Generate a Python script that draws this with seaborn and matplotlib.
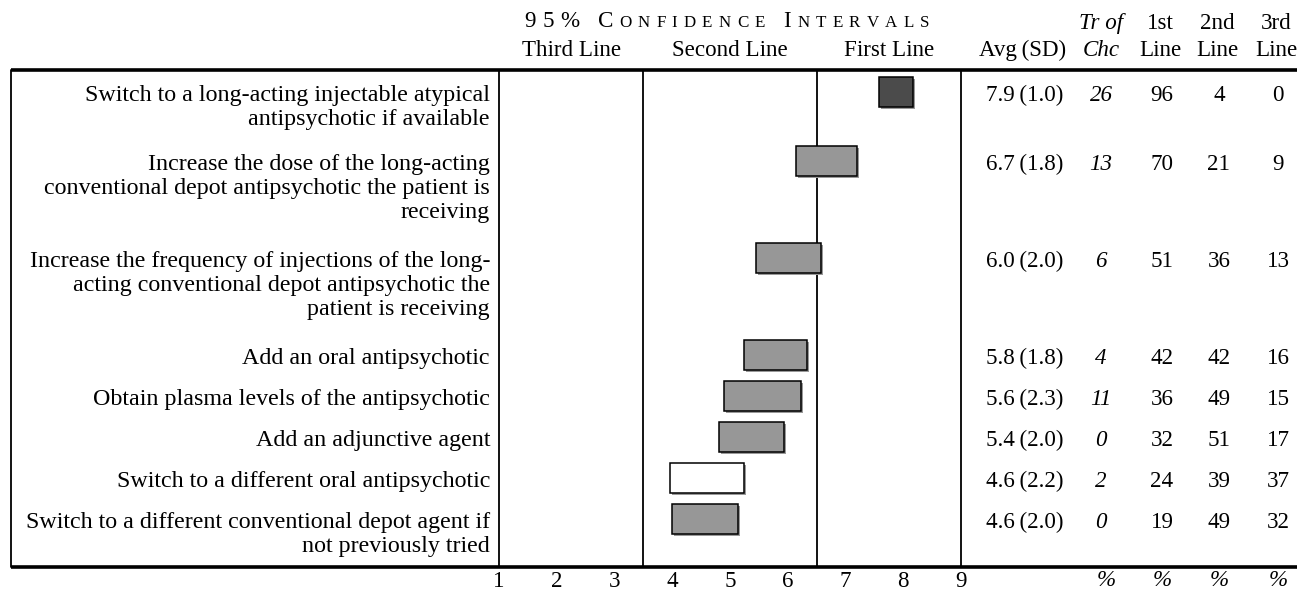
import numpy as np
import pandas as pd
import matplotlib
matplotlib.use("Agg")
import matplotlib.pyplot as plt
import matplotlib.patheffects as pe
import seaborn as sns

# ---------------- data ----------------
labels = [
    "Switch to a long-acting injectable atypical\nantipsychotic if available",
    "Increase the dose of the long-acting\nconventional depot antipsychotic the patient is\nreceiving",
    "Increase the frequency of injections of the long-\nacting conventional depot antipsychotic the\npatient is receiving",
    "Add an oral antipsychotic",
    "Obtain plasma levels of the antipsychotic",
    "Add an adjunctive agent",
    "Switch to a different oral antipsychotic",
    "Switch to a different conventional depot agent if\nnot previously tried",
]
avg = [7.9, 6.7, 6.0, 5.8, 5.6, 5.4, 4.6, 4.6]
sd = [1.0, 1.8, 2.0, 1.8, 2.3, 2.0, 2.2, 2.0]
ci_low = [7.58, 6.14, 5.45, 5.24, 4.90, 4.81, 3.96, 4.00]
ci_high = [8.17, 7.20, 6.58, 6.33, 6.23, 5.94, 5.24, 5.14]
bar_tone = ["first", "mid", "mid", "mid", "mid", "mid", "open", "mid"]
tr_of_chc = [26, 13, 6, 4, 11, 0, 2, 0]
pct_first = [96, 70, 51, 42, 36, 32, 24, 19]
pct_second = [4, 21, 36, 42, 49, 51, 39, 49]
pct_third = [0, 9, 13, 16, 15, 17, 37, 32]
scale_ticks = [1, 2, 3, 4, 5, 6, 7, 8, 9]
zone_names = ["Third Line", "Second Line", "First Line"]
zone_bounds = [1, 3.5, 6.5, 9]

df = pd.DataFrame({"label": labels, "avg": avg, "sd": sd, "lo": ci_low,
                   "hi": ci_high, "tone": bar_tone, "tr": tr_of_chc,
                   "p1": pct_first, "p2": pct_second, "p3": pct_third})

# ---------------- style ----------------
sns.set_theme(style="white")
plt.rcParams["font.family"] = ["Liberation Serif", "DejaVu Serif"]
plt.rcParams["text.color"] = "black"
plt.rcParams["xtick.color"] = "black"
plt.rcParams["xtick.labelcolor"] = "black"
FS = 16.6
FS_LAB = 17.3
tone_color = {"first": "#4b4b4b", "mid": "#979797", "open": "#ffffff"}

FW, FH = 1297, 592
fig = plt.figure(figsize=(FW / 100, FH / 100), dpi=100)
tab = fig.add_axes([0, 0, 1, 1])
tab.set_xlim(0, FW)
tab.set_ylim(FH, 0)
tab.axis("off")

TOP, BOT = 70, 567
X1, X9 = 499, 961
ci = fig.add_axes([X1 / FW, 1 - BOT / FH, (X9 - X1) / FW, (BOT - TOP) / FH])
ci.set_xlim(1, 9)
ci.set_ylim(BOT - TOP, 0)
for s in ci.spines.values():
    s.set_visible(False)
ci.set_yticks([])
ci.set_xticks(scale_ticks)
ci.set_xticklabels([str(t) for t in scale_ticks], fontsize=FS, color="black")
ci.tick_params(axis="x", length=0, pad=3)
ci.patch.set_alpha(0)

# row layout
nlines = [len(l.split("\n")) for l in df["label"]]
heights = [28 * n + 13 for n in nlines]
tops = np.concatenate([[0], np.cumsum(heights)[:-1]])
centers = tops + 22

# bars
shadow = [pe.SimplePatchShadow(offset=(1.5, -1.5), shadow_rgbFace="0.6", alpha=1), pe.Normal()]
bars = ci.barh(centers, df["hi"] - df["lo"], left=df["lo"], height=30,
               color=[tone_color[t] for t in df["tone"]], edgecolor="black", linewidth=1.1, zorder=3)
for b in bars:
    b.set_path_effects(shadow)

for xb in zone_bounds:
    ci.axvline(xb, color="black", lw=1.3, zorder=1, clip_on=False)

# lines of the table
tab.plot([11, FW], [TOP, TOP], color="black", lw=2.6, solid_capstyle="butt")
tab.plot([11, FW], [BOT, BOT], color="black", lw=2.6, solid_capstyle="butt")
tab.plot([11, 11], [TOP, BOT], color="black", lw=1.3)

# row texts
VA = "center_baseline"
COL_AVG, COL_TR, COL_1, COL_2, COL_3 = 1025, 1101, 1162, 1219, 1278
for i, row in df.iterrows():
    yc = TOP + centers[i] + 1
    for k, line in enumerate(row["label"].split("\n")):
        tab.text(490, yc + 24 * k, line, ha="right", va=VA, fontsize=FS_LAB)
    tab.text(COL_AVG, yc, f"{row['avg']:.1f}\u2009({row['sd']:.1f})", ha="center", va=VA, fontsize=FS)
    tab.text(COL_TR, yc, f"{row['tr']}", ha="center", va=VA, fontsize=FS, style="italic")
    tab.text(COL_1, yc, f"{row['p1']}", ha="center", va=VA, fontsize=FS)
    tab.text(COL_2, yc, f"{row['p2']}", ha="center", va=VA, fontsize=FS)
    tab.text(COL_3, yc, f"{row['p3']}", ha="center", va=VA, fontsize=FS)

# headers
H1, H2 = 21, 48
for name, a, b in zip(zone_names, zone_bounds[:-1], zone_bounds[1:]):
    xm = X1 + ((a + b) / 2 - 1) * (X9 - X1) / 8
    tab.text(xm, H2, name, ha="center", va=VA, fontsize=FS)
tab.text(1023, H2, "Avg\u2009(SD)", ha="center", va=VA, fontsize=FS)
tab.text(COL_TR, H1, "Tr of", ha="center", va=VA, fontsize=FS, style="italic")
tab.text(COL_TR, H2, "Chc", ha="center", va=VA, fontsize=FS, style="italic")
for xc, t in zip([COL_1, COL_2, COL_3], ["1st", "2nd", "3rd"]):
    tab.text(xc - 2, H1, t, ha="center", va=VA, fontsize=FS)
    tab.text(xc - 2, H2, "Line", ha="center", va=VA, fontsize=FS)
for xc in [COL_TR + 5, COL_1, COL_2, COL_3]:
    tab.text(xc, 581, "%", ha="center", va="center", fontsize=FS, style="italic")

# small-caps letter-spaced title
title = "95% Confidence Intervals"
pieces = []
for word in title.split(" "):
    for j, ch in enumerate(word):
        big = (j == 0) or not ch.isalpha()
        pieces.append((ch.upper(), FS if big else FS * 0.74))
    pieces.append((" ", FS * 0.74))
pieces = pieces[:-1]
renderer = fig.canvas.get_renderer()
track = 6.2
widths = []
for ch, sz in pieces:
    if ch == " ":
        widths.append(sz * 0.5)
        continue
    t = tab.text(0, 0, ch, fontsize=sz)
    bb = t.get_window_extent(renderer)
    widths.append(bb.width)
    t.remove()
total = sum(widths) + track * (len(pieces) - 1)
x = 727 - total / 2
for (ch, sz), w in zip(pieces, widths):
    if ch != " ":
        tab.text(x, H1 + 6, ch, fontsize=sz, ha="left", va="baseline")
    x += w + track

fig.savefig("out.png", dpi=100)
